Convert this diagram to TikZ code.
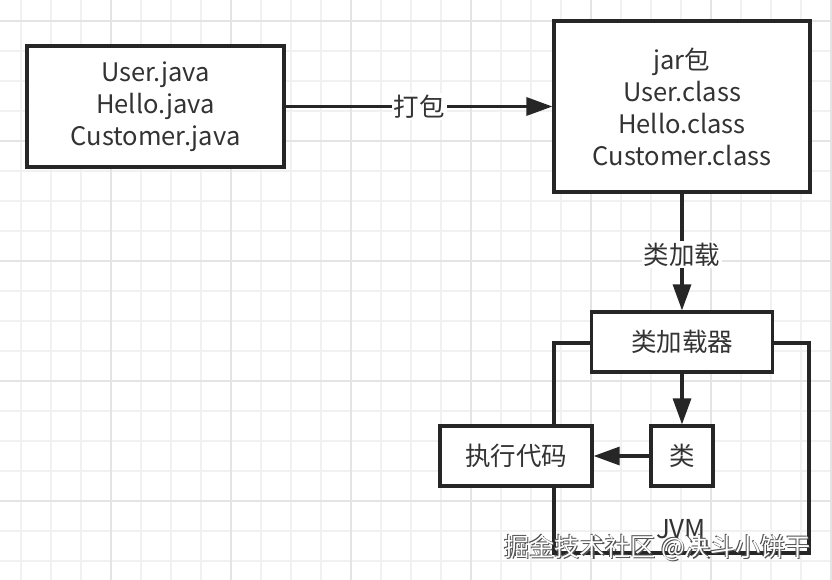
\documentclass[tikz,border=0pt]{standalone}
\usepackage{fontspec}
\setmainfont{Noto Sans CJK SC}
\usetikzlibrary{arrows.meta}
\definecolor{ink}{HTML}{262626}
\definecolor{txt}{HTML}{333333}
\definecolor{gridfine}{HTML}{F1F1F1}
\definecolor{gridmajor}{HTML}{E4E4E4}
\definecolor{wmshadow}{HTML}{505050}
\tikzset{
  box/.style={draw=ink, line width=3.2pt, fill=white, text=txt,
    font=\fontsize{25.5}{32}\selectfont, align=center, inner sep=0pt},
  lbl/.style={fill=white, text=txt, font=\fontsize{25.5}{28}\selectfont, inner sep=2pt},
  arr/.style={draw=ink, line width=3.2pt, -{Triangle[length=26pt,width=18pt]}},
  frame/.style={draw=ink, line width=3.2pt, inner sep=0pt},
  wm/.style={font=\fontsize{25.2}{25}\selectfont, anchor=west, inner sep=0pt},
}
\begin{document}
\begin{tikzpicture}[x=1pt,y=-1pt]
\useasboundingbox (0,0) rectangle (832,580);
\fill[white] (0,0) rectangle (832,580);
% grid
\foreach \x in {21,51,...,831} \draw[gridfine, line width=1.2pt] (\x,0) -- (\x,580);
\foreach \y in {21,51,...,580} \draw[gridfine, line width=1.2pt] (0,\y) -- (832,\y);
\foreach \x in {111,231,...,831} \draw[gridmajor, line width=1.2pt] (\x,0) -- (\x,580);
\foreach \y in {21,141,...,580} \draw[gridmajor, line width=1.2pt] (0,\y) -- (832,\y);
% JVM frame
\node[frame, minimum width=255pt, minimum height=210pt] (jvm) at (681.5,448) {};
\node[text=txt, font=\fontsize{26}{26}\selectfont, inner sep=0pt] (jvmlbl) at (681,529) {JVM};
% boxes
\node[box, minimum width=257pt, minimum height=121pt] (src) at (155.5,106.5) {User.java\\Hello.java\\Customer.java};
\node[box, minimum width=256pt, minimum height=171pt] (jar) at (682,106.5) {jar包\\User.class\\Hello.class\\Customer.class};
\node[box, minimum width=181pt, minimum height=60pt] (loader) at (682,342) {类加载器};
\node[box, minimum width=62pt, minimum height=60pt] (lei) at (682,456) {类};
\node[box, minimum width=152pt, minimum height=60pt] (exec) at (516,456) {执行代码};
% connectors
\draw[arr] (src) -- node[lbl] (pack) {打包} (jar);
\draw[arr] (jar) -- node[lbl, pos=0.52] (load) {类加载} (loader);
\draw[arr] (loader) -- (lei);
\draw[arr] (lei) -- (exec);
% watermark
\foreach \dx/\dy [count=\k] in {1.3/1.3, -0.8/-0.8}
  \node[wm, text=wmshadow] (wms\k) at ({504+\dx},{548+\dy}) {掘金技术社区 @决斗小饼干};
\node[wm, text=white] (wmtext) at (504,548) {掘金技术社区 @决斗小饼干};
\end{tikzpicture}
\end{document}
